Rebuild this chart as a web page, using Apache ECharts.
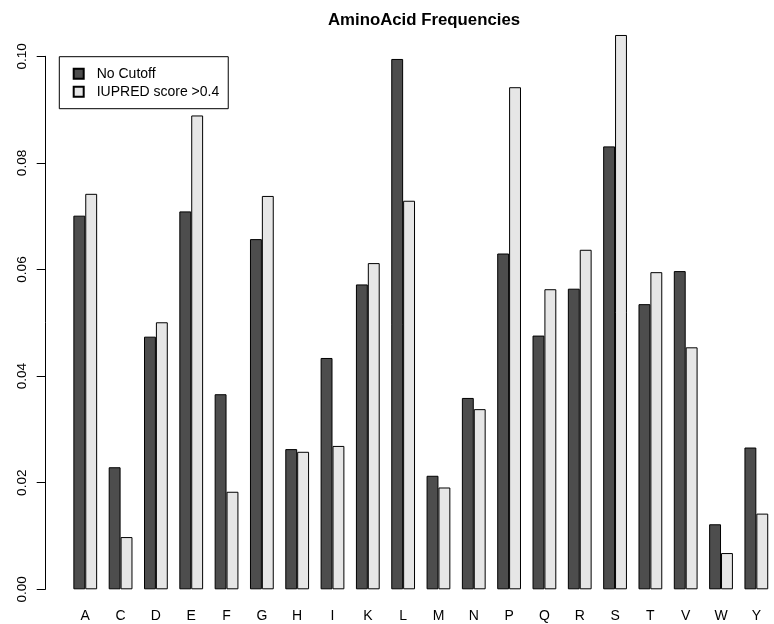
<!DOCTYPE html>
<html>
<head>
<meta charset="utf-8">
<script src="https://cdn.jsdelivr.net/npm/echarts@6/dist/echarts.min.js"></script>
<style>
  html, body { margin: 0; padding: 0; background: #fff; }
  #chart { width: 774px; height: 624px; }
</style>
</head>
<body>
<div id="chart"></div>
<script>
// Amino acid frequencies, all residues vs. residues with IUPRED score > 0.4
const categories = ['A','C','D','E','F','G','H','I','K','L','M','N','P','Q','R','S','T','V','W','Y'];
const noCutoff = [0.0701, 0.0229, 0.0474, 0.0709, 0.0366, 0.0657, 0.0263, 0.0434, 0.0572, 0.0995,
                  0.0213, 0.0359, 0.0630, 0.0476, 0.0564, 0.0831, 0.0535, 0.0597, 0.0122, 0.0266];
const iupred = [0.0742, 0.0098, 0.0501, 0.0889, 0.0183, 0.0738, 0.0258, 0.0269, 0.0612, 0.0729,
                0.0191, 0.0338, 0.0942, 0.0563, 0.0637, 0.1040, 0.0595, 0.0454, 0.0068, 0.0142];
const yTicks = [0, 0.02, 0.04, 0.06, 0.08, 0.10];

const FONT = '"Liberation Sans", Arial, Helvetica, sans-serif';
const chart = echarts.init(document.getElementById('chart'), null, { renderer: 'canvas' });

const barW = 11.89;
chart.setOption({
  animation: false,
  backgroundColor: '#fff',
  title: {
    text: 'AminoAcid Frequencies',
    left: 424,
    top: 12,
    padding: 0,
    textAlign: 'center',
    textStyle: { fontFamily: FONT, fontSize: 16.8, fontWeight: 'bold', color: '#000' }
  },
  legend: {
    orient: 'vertical',
    left: 59.3,
    top: 56.7,
    padding: [10, 9, 10, 13.4],
    itemWidth: 10,
    itemHeight: 10,
    itemGap: 4,
    icon: 'rect',
    borderColor: '#000',
    borderWidth: 1,
    borderRadius: 0,
    textStyle: { fontFamily: FONT, fontSize: 14, color: '#000', padding: [0, 0, 0, 8] },
    data: ['No Cutoff', 'IUPRED score >0.4']
  },
  grid: { left: 67.6, top: 56.3, width: 713.6, height: 533 },
  xAxis: {
    type: 'category',
    data: categories,
    axisLine: { show: false },
    axisTick: { show: false },
    axisLabel: { fontFamily: FONT, fontSize: 14, color: '#000', margin: 20 }
  },
  yAxis: {
    type: 'value',
    min: yTicks[0],
    max: yTicks[yTicks.length - 1],
    interval: 0.02,
    offset: 22.3,
    splitLine: { show: false },
    axisLine: { show: true, lineStyle: { color: '#000', width: 1 } },
    axisTick: { show: true, length: 8.6, lineStyle: { color: '#000', width: 1 } },
    axisLabel: {
      rotate: 90,
      margin: 16,
      fontFamily: FONT,
      fontSize: 13.6,
      color: '#000',
      formatter: v => v.toFixed(2)
    }
  },
  series: [
    {
      name: 'No Cutoff',
      type: 'bar',
      data: noCutoff,
      barWidth: barW,
      barGap: '0%',
      clip: false,
      itemStyle: { color: '#4d4d4d', borderColor: '#000', borderWidth: 1 }
    },
    {
      name: 'IUPRED score >0.4',
      type: 'bar',
      data: iupred,
      barWidth: barW,
      barGap: '0%',
      clip: false,
      itemStyle: { color: '#e6e6e6', borderColor: '#000', borderWidth: 1 }
    }
  ]
});
</script>
</body>
</html>
